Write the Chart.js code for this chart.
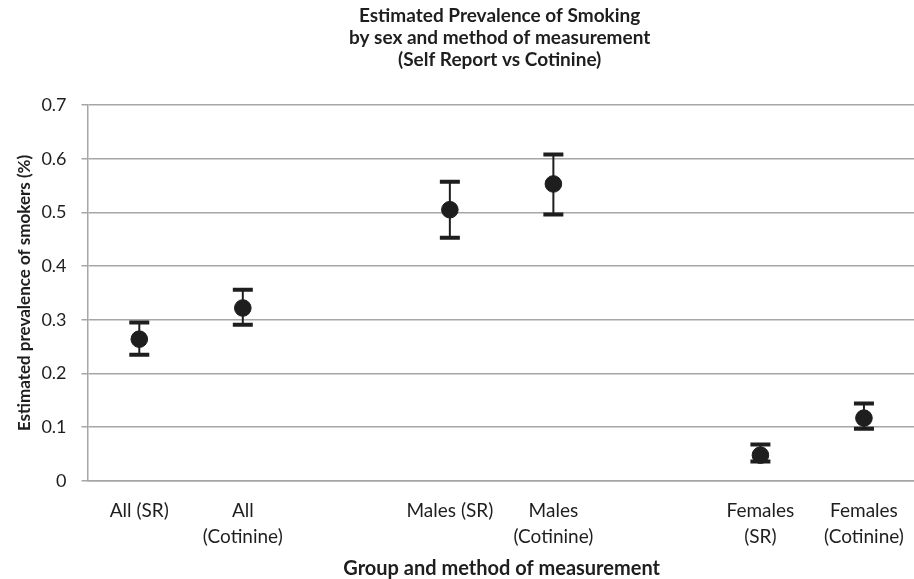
<!DOCTYPE html>
<html>
<head>
<meta charset="utf-8">
<script src="https://cdn.jsdelivr.net/npm/chart.js@4.4.1/dist/chart.umd.min.js"></script>
<style>
  html, body { margin: 0; padding: 0; background: #fff; overflow: hidden; }
  /* a touch wider than the window: the plot area runs off the right edge */
  #wrap { width: 925px; height: 579px; }
</style>
</head>
<body>
<div id="wrap"><canvas id="chart"></canvas></div>
<script>
// categories (blank entries are the gaps between groups)
const groups = [
    ['All (SR)'], ['All', '(Cotinine)'], '',
    ['Males (SR)'], ['Males', '(Cotinine)'], '',
    ['Females', '(SR)'], ['Females', '(Cotinine)']
];
const prevalence = [0.264, 0.322, null, 0.505, 0.553, null, 0.048, 0.117];
const lowerCI    = [0.235, 0.291, null, 0.453, 0.496, null, 0.036, 0.097];
const upperCI    = [0.295, 0.356, null, 0.557, 0.608, null, 0.068, 0.144];
const yTicks = [0, 0.1, 0.2, 0.3, 0.4, 0.5, 0.6, 0.7];

const titleLines = [
    'Estimated Prevalence of Smoking',
    'by sex and method of measurement',
    '(Self Report vs Cotinine)'
];

const FONT = 'Lato, "Open Sans", sans-serif';
const INK = '#1e1e1e';

// error bars, drawn before the points so the dots sit on top
const errorBars = {
    id: 'errorBars',
    beforeDatasetsDraw(chart) {
        const ctx = chart.ctx;
        const xs = chart.scales.x, ys = chart.scales.y;
        ctx.save();
        ctx.strokeStyle = INK;
        prevalence.forEach((v, i) => {
            if (v === null) return;
            const x = xs.getPixelForValue(i);
            const yl = ys.getPixelForValue(lowerCI[i]);
            const yu = ys.getPixelForValue(upperCI[i]);
            ctx.lineWidth = 2;
            ctx.beginPath();
            ctx.moveTo(x, yl);
            ctx.lineTo(x, yu);
            ctx.stroke();
            ctx.lineWidth = 4;
            ctx.beginPath();
            ctx.moveTo(x - 10, yl);
            ctx.lineTo(x + 10, yl);
            ctx.moveTo(x - 10, yu);
            ctx.lineTo(x + 10, yu);
            ctx.stroke();
        });
        ctx.restore();
    }
};

// title centred over the plot area
const plotTitle = {
    id: 'plotTitle',
    afterDraw(chart) {
        const ctx = chart.ctx;
        const cx = (chart.chartArea.left + chart.chartArea.right) / 2;
        ctx.save();
        ctx.fillStyle = INK;
        ctx.font = 'bold 19px ' + FONT;
        ctx.textAlign = 'center';
        ctx.textBaseline = 'middle';
        titleLines.forEach((t, i) => ctx.fillText(t, cx - 2, 16 + i * 22));
        ctx.restore();
    }
};

new Chart(document.getElementById('chart'), {
    type: 'line',
    data: {
        labels: groups,
        datasets: [{
            label: 'Prevalence',
            data: prevalence,
            showLine: false,
            pointRadius: 8.3,
            pointHoverRadius: 8.3,
            pointBackgroundColor: INK,
            pointBorderColor: INK,
            pointBorderWidth: 1
        }]
    },
    options: {
        responsive: true,
        maintainAspectRatio: false,
        animation: false,
        layout: { padding: { top: 105, left: 7, right: 0, bottom: 0 } },
        plugins: {
            legend: { display: false },
            tooltip: { enabled: false }
        },
        scales: {
            x: {
                offset: true,
                grid: { display: false, drawTicks: false },
                border: { color: '#a6a6a6', width: 1.5 },
                ticks: {
                    color: INK,
                    font: { family: FONT, size: 19, lineHeight: 1.37 },
                    padding: 17,
                    maxRotation: 0,
                    autoSkip: false
                },
                title: {
                    display: true,
                    text: 'Group and method of measurement',
                    color: INK,
                    font: { family: FONT, size: 20, weight: 'bold', lineHeight: 1 },
                    padding: { top: -8, bottom: 0 }
                }
            },
            y: {
                min: 0,
                max: 0.7,
                afterBuildTicks(axis) {
                    axis.ticks = yTicks.map(v => ({ value: v }));
                },
                grid: { color: '#a6a6a6', lineWidth: 1.5, tickLength: 6 },
                border: { color: '#a6a6a6', width: 1.5 },
                ticks: {
                    color: INK,
                    font: { family: FONT, size: 18 },
                    padding: 15,
                    callback: v => String(v)
                },
                title: {
                    display: true,
                    text: 'Estimated prevalence of smokers (%)',
                    color: INK,
                    font: { family: FONT, size: 17, weight: 'bold' },
                    padding: { top: 7, bottom: -8 }
                }
            }
        }
    },
    plugins: [errorBars, plotTitle]
});
</script>
</body>
</html>
